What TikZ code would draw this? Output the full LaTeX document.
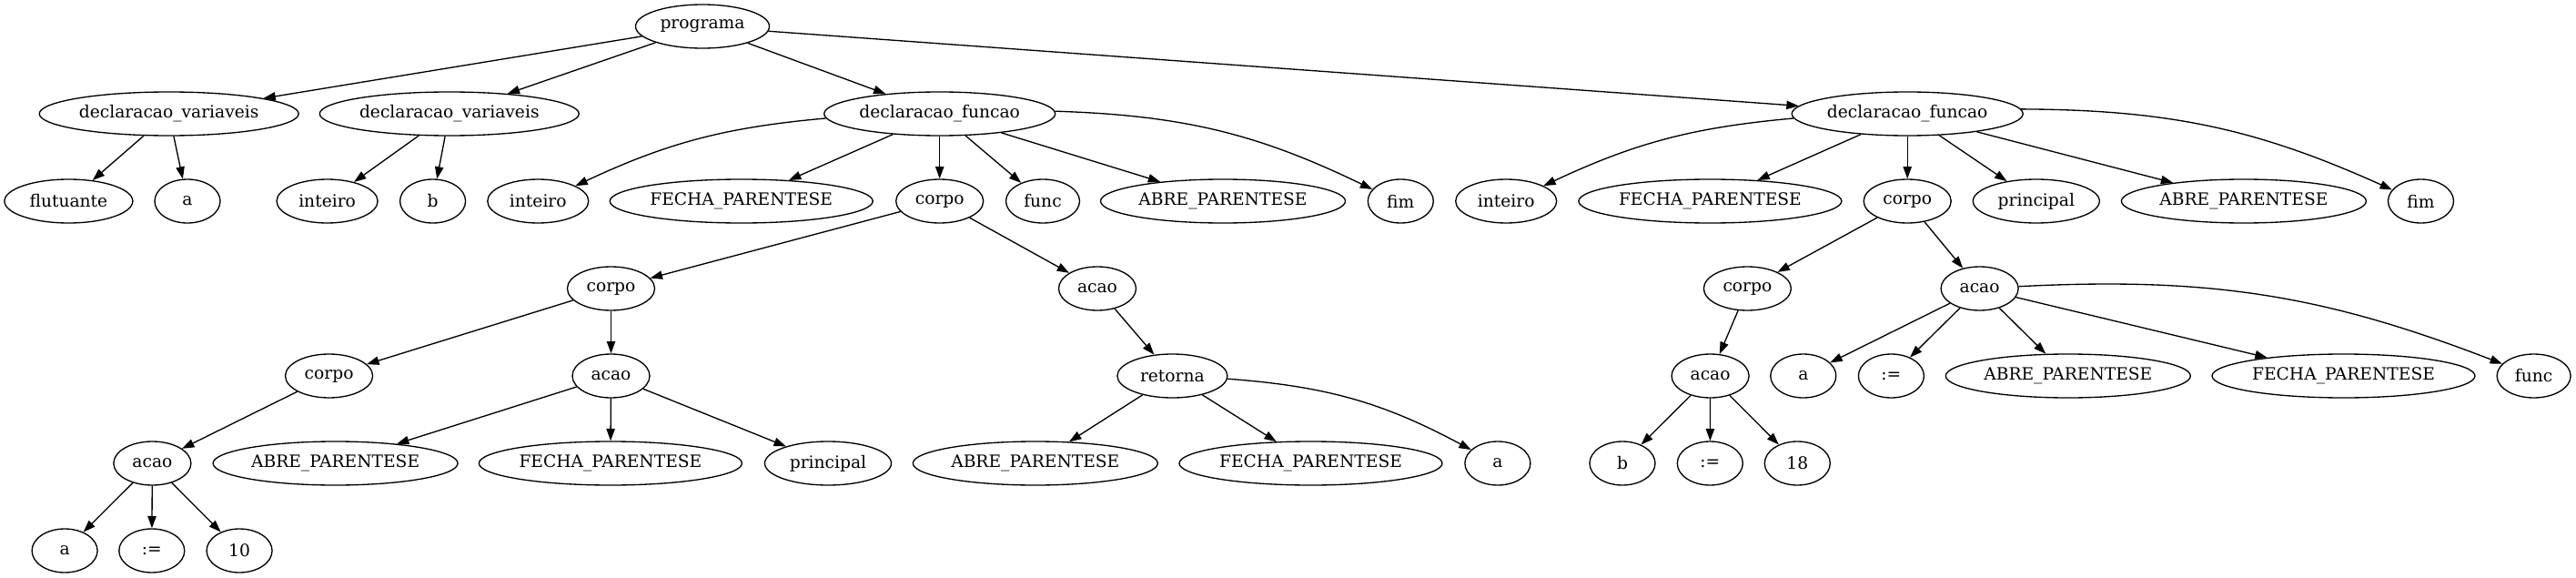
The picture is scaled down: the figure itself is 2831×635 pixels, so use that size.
\documentclass[tikz,border=0pt]{standalone}
\usepackage{fontspec}
\setmainfont{DejaVu Serif}
\usepackage{tikz}
\usetikzlibrary{shapes.geometric, arrows.meta}
\tikzset{nd/.style={draw, ellipse, inner sep=0pt, minimum height=36pt, minimum width=#1*.75pt, font=\fontsize{14}{16}\selectfont}, nd/.default=72}
\tikzset{>={Triangle[length=10pt, width=7pt]}}

\begin{document}
\begin{tikzpicture}[x=.75pt, y=-.75pt, line width=1pt]
\useasboundingbox (0,0) rectangle (2831,635);
\node[nd=147] (A0) at (772,29) {programa};
\node[nd=285] (B1) at (185.7,125) {declaracao\_variaveis};
\node[nd=285] (B2) at (493.8,125) {declaracao\_variaveis};
\node[nd=254] (B3) at (1032.7,125) {declaracao\_funcao};
\node[nd=254] (B4) at (2096.2,125) {declaracao\_funcao};
\node[nd=141] (C1) at (75.4,221) {flutuante};
\node[nd] (C2) at (206,221) {a};
\node[nd=111] (C3) at (359.6,221) {inteiro};
\node[nd] (C4) at (475.6,221) {b};
\node[nd=111] (C5) at (591.3,221) {inteiro};
\node[nd=289] (C6) at (814.7,221) {FECHA\_PARENTESE};
\node[nd=96] (C7) at (1032.7,221) {corpo};
\node[nd=81] (C8) at (1146,221) {func};
\node[nd=269] (C9) at (1344,221) {ABRE\_PARENTESE};
\node[nd] (C10) at (1539.3,221) {fim};
\node[nd=111] (C11) at (1655.2,221) {inteiro};
\node[nd=289] (C12) at (1879.4,221) {FECHA\_PARENTESE};
\node[nd=96] (C13) at (2096.2,221) {corpo};
\node[nd=139] (C14) at (2237.8,221) {principal};
\node[nd=269] (C15) at (2465.9,221) {ABRE\_PARENTESE};
\node[nd] (C16) at (2660.5,221) {fim};
\node[nd=96] (D1) at (671.5,317) {corpo};
\node[nd=85] (D2) at (1206,317) {acao};
\node[nd=96] (D3) at (1920.4,317) {corpo};
\node[nd=85] (D4) at (2175.6,317) {acao};
\node[nd=96] (E1) at (361.6,413) {corpo};
\node[nd=85] (E2) at (671.5,413) {acao};
\node[nd=121] (E3) at (1288.4,413) {retorna};
\node[nd=85] (E4) at (1879.6,413) {acao};
\node[nd] (E5) at (1981.8,413) {a};
\node[nd] (E6) at (2078.4,413) {:=};
\node[nd=269] (E7) at (2272.8,413) {ABRE\_PARENTESE};
\node[nd=289] (E8) at (2575.5,413) {FECHA\_PARENTESE};
\node[nd=81] (E9) at (2784.6,413) {func};
\node[nd=85] (F1) at (167.4,509) {acao};
\node[nd=269] (F2) at (368.6,509) {ABRE\_PARENTESE};
\node[nd=289] (F3) at (670.9,509) {FECHA\_PARENTESE};
\node[nd=139] (F4) at (910,509) {principal};
\node[nd=269] (F5) at (1137.8,509) {ABRE\_PARENTESE};
\node[nd=289] (F6) at (1440.5,509) {FECHA\_PARENTESE};
\node[nd] (F7) at (1645.9,509) {a};
\node[nd] (F8) at (1783,509) {b};
\node[nd] (F9) at (1879.3,509) {:=};
\node[nd] (F10) at (1975.3,509) {18};
\node[nd] (G1) at (71.1,605) {a};
\node[nd] (G2) at (166.8,605) {:=};
\node[nd] (G3) at (263.1,605) {10};
\draw[->] (A0) -- (B1);
\draw[->] (A0) -- (B2);
\draw[->] (A0) -- (B3);
\draw[->] (A0) -- (B4);
\draw[->] (B1) -- (C1);
\draw[->] (B1) -- (C2);
\draw[->] (B2) -- (C3);
\draw[->] (B2) -- (C4);
\draw[->] (B3) to[bend right=10] (C5);
\draw[->] (B3) -- (C6);
\draw[->] (B3) -- (C7);
\draw[->] (B3) -- (C8);
\draw[->] (B3) -- (C9);
\draw[->] (B3) to[bend left=12] (C10);
\draw[->] (B4) to[bend right=10] (C11);
\draw[->] (B4) -- (C12);
\draw[->] (B4) -- (C13);
\draw[->] (B4) -- (C14);
\draw[->] (B4) -- (C15);
\draw[->] (B4) to[bend left=12] (C16);
\draw[->] (C7) -- (D1);
\draw[->] (C7) -- (D2);
\draw[->] (C13) -- (D3);
\draw[->] (C13) -- (D4);
\draw[->] (D1) -- (E1);
\draw[->] (D1) -- (E2);
\draw[->] (D2) -- (E3);
\draw[->] (D3) -- (E4);
\draw[->] (D4) -- (E5);
\draw[->] (D4) -- (E6);
\draw[->] (D4) -- (E7);
\draw[->] (D4) -- (E8);
\draw[->] (D4) to[bend left=12] (E9);
\draw[->] (E1) -- (F1);
\draw[->] (E2) -- (F2);
\draw[->] (E2) -- (F3);
\draw[->] (E2) -- (F4);
\draw[->] (E3) -- (F5);
\draw[->] (E3) -- (F6);
\draw[->] (E3) to[bend left=12] (F7);
\draw[->] (E4) -- (F8);
\draw[->] (E4) -- (F9);
\draw[->] (E4) -- (F10);
\draw[->] (F1) -- (G1);
\draw[->] (F1) -- (G2);
\draw[->] (F1) -- (G3);
\end{tikzpicture}
\end{document}
